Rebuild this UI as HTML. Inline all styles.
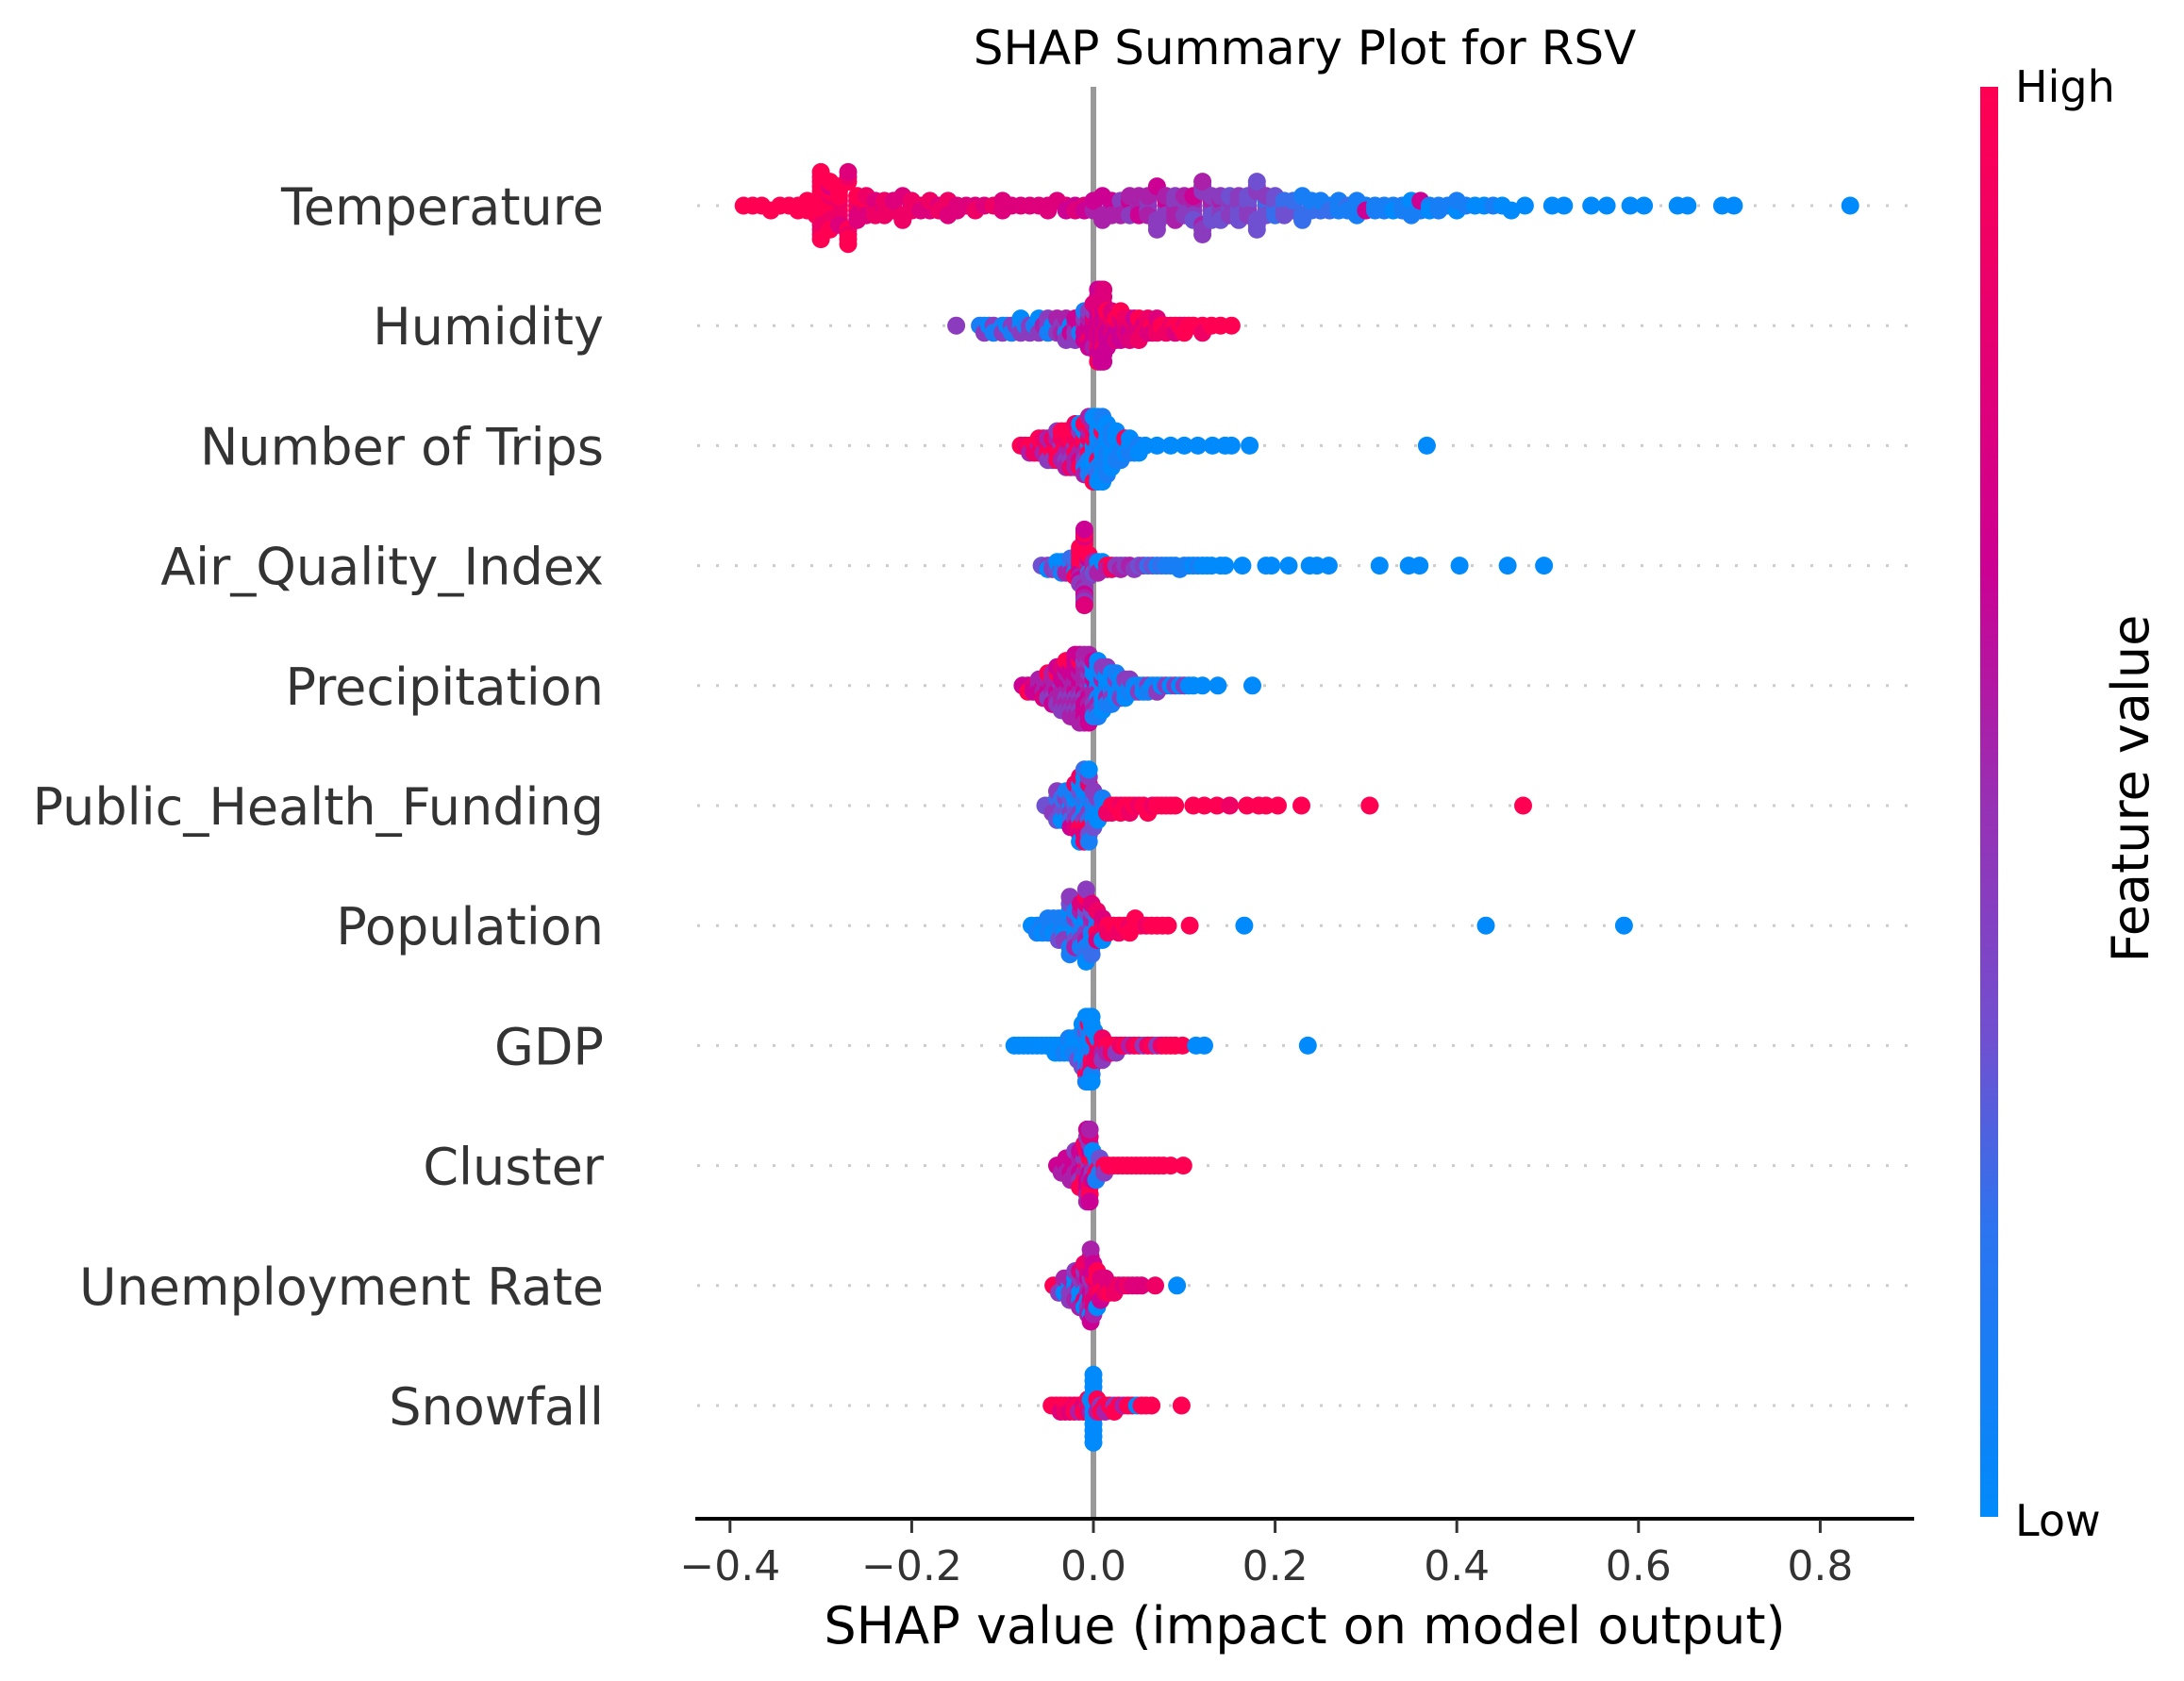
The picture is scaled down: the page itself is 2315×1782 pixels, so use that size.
<!DOCTYPE html>
<html><head><meta charset="utf-8"><style>
html,body{margin:0;padding:0;background:#fff}
svg{display:block;font-family:"DejaVu Sans","Liberation Sans",sans-serif}
</style></head><body>
<svg id="chart" width="2315" height="1782" viewBox="0 0 2315 1782" xmlns="http://www.w3.org/2000/svg">
<defs>
<linearGradient id="cbar" x1="0" y1="1" x2="0" y2="0">
<stop offset="0" stop-color="#008afb"/><stop offset="0.2" stop-color="#2c74f0"/><stop offset="0.335" stop-color="#7050d0"/><stop offset="0.5" stop-color="#9830b4"/><stop offset="0.665" stop-color="#cc0092"/><stop offset="0.85" stop-color="#ea006c"/><stop offset="1" stop-color="#ff0052"/>
</linearGradient>
</defs>
<text x="1383" y="68" font-size="50" text-anchor="middle" fill="#000">SHAP Summary Plot for RSV</text>
<g id="grid"></g>
<line x1="1159" y1="92" x2="1159" y2="1608" stroke="#999" stroke-width="6"/>
<g id="points"></g>
<g id="labels"></g>
<line x1="737" y1="1610" x2="2029" y2="1610" stroke="#000" stroke-width="4"/>
<g id="xticks"></g>
<text x="1383" y="1742" font-size="54" text-anchor="middle" fill="#000">SHAP value (impact on model output)</text>
<rect x="2099" y="92" width="19" height="1516" fill="url(#cbar)"/>
<text x="2136" y="108" font-size="46" fill="#000">High</text>
<text x="2136" y="1628" font-size="46" fill="#000">Low</text>
<text transform="translate(2277,836) rotate(-90)" font-size="54" text-anchor="middle" fill="#000">Feature value</text>
</svg>
<script>
const features = ["Temperature","Humidity","Number of Trips","Air_Quality_Index","Precipitation","Public_Health_Funding","Population","GDP","Cluster","Unemployment Rate","Snowfall"];
const xTicks = [-0.4,-0.2,0.0,0.2,0.4,0.6,0.8];
const xTickLabels = ["\u22120.4","\u22120.2","0.0","0.2","0.4","0.6","0.8"];
// each token "shap:digits" = one point per digit at that SHAP value; digit = feature value (0 low .. 9 high)
const rawTemperature = "-0.385:9 -0.375:9 -0.365:9 -0.355:9 -0.345:9 -0.335:9 -0.325:99 -0.315:999 -0.305:9999 -0.30:99989898999 -0.29:99998898799 -0.28:998898979 -0.27:9988979 -0.26:898797 -0.25:88978 -0.24:8878 -0.23:8788 -0.22:887 -0.21:878 -0.20:788 -0.19:87 -0.18:778 -0.17:78 -0.16:87 -0.15:77 -0.14:7 -0.13:78 -0.12:7 -0.11:8 -0.10:77 -0.09:7 -0.08:7 -0.07:7 -0.06:7 -0.05:77 -0.04:7 -0.03:76 -0.02:67 -0.01:76 0.00:656 0.01:565 0.02:5565 0.03:6545 0.04:55645 0.05:45565 0.06:54455 0.07:45464 0.08:54645 0.09:454545 0.10:45445 0.11:445463 0.12:454454 0.13:445343 0.14:345443 0.15:43443 0.16:434343 0.17:34343 0.18:343433 0.19:33234 0.20:32323 0.21:2323 0.22:232 0.23:212 0.24:221 0.25:121 0.26:12 0.27:111 0.28:21 0.29:11 0.30:16 0.31:11 0.32:11 0.33:10 0.34:11 0.35:01 0.36:116 0.37:10 0.38:11 0.39:1 0.40:01 0.41:1 0.42:0 0.43:0 0.44:1 0.45:0 0.46:0 0.475:0 0.505:0 0.518:0 0.548:0 0.565:0 0.591:0 0.606:0 0.643:0 0.654:0 0.692:0 0.705:0 0.833:0";
const rawHumidity = "-0.151:4 -0.125:1 -0.12:14 -0.115:0 -0.11:41 -0.10:14 -0.095:0 -0.09:41 -0.085:4 -0.08:140 -0.075:1 -0.07:44 -0.065:1 -0.06:140 -0.055:5 -0.05:414 -0.045:0 -0.04:145 -0.035:45 -0.03:4154 -0.025:06 -0.02:5464 -0.015:616 -0.01:56461 -0.005:665846 0.00:6676457 0.005:67676876796 0.008:76768676766 0.011:67676876767 0.015:767696 0.02:67867 0.025:7697 0.03:86769 0.035:778 0.04:7687 0.045:876 0.05:7798 0.055:78 0.06:878 0.065:97 0.07:887 0.075:9 0.08:98 0.085:8 0.09:97 0.095:9 0.10:89 0.105:9 0.11:9 0.12:98 0.13:9 0.14:9 0.152:9";
const rawTrips = "-0.08:9 -0.075:8 -0.07:95 -0.065:98 -0.06:589 -0.055:958 -0.05:8954 -0.045:5984 -0.04:89594 -0.035:49859 -0.03:958495 -0.025:859498 -0.02:4985958 -0.015:9587490 -0.01:85940195 -0.005:098150915 0.00:0190805109 0.005:0109010200 0.01:1010910010 0.015:01010101 0.02:001010 0.025:10010 0.03:0101 0.035:109 0.04:010 0.045:01 0.05:10 0.057:0 0.07:0 0.085:0 0.10:0 0.115:0 0.131:0 0.145:0 0.152:0 0.172:0 0.367:0";
const rawAQI = "-0.057:3 -0.05:40 -0.045:34 -0.04:430 -0.035:3401 -0.03:4305 -0.025:34052 -0.02:543029 -0.015:67969596949 -0.01:59496759467 -0.005:0952649 0.00:4953 0.005:9305 0.01:950 0.015:95 0.02:98 0.025:4 0.03:45 0.035:4 0.04:5 0.045:4 0.05:3 0.055:4 0.06:2 0.065:3 0.07:1 0.075:2 0.08:1 0.085:1 0.09:1 0.095:1 0.10:1 0.105:1 0.11:0 0.115:1 0.12:0 0.125:0 0.13:0 0.14:0 0.145:0 0.164:0 0.19:0 0.196:0 0.215:0 0.238:0 0.246:0 0.259:0 0.315:0 0.347:0 0.359:0 0.403:0 0.456:0 0.496:0";
const rawPrecip = "-0.078:6 -0.072:69 -0.066:76 -0.06:565 -0.055:6557 -0.05:56549 -0.045:655456 -0.04:5655946 -0.035:45656574 -0.03:656455649 -0.025:6554656495 -0.02:56546564656 -0.015:656455649565 -0.01:565456564655 -0.005:455645564656 0.00:0565040561 0.005:0501050401 0.01:10501040 0.015:0105014 0.02:010401 0.025:10401 0.03:0104 0.035:1040 0.04:014 0.045:10 0.05:04 0.055:10 0.06:41 0.065:0 0.07:14 0.075:0 0.08:4 0.085:0 0.09:4 0.095:0 0.10:4 0.105:0 0.11:0 0.12:0 0.137:0 0.175:0";
const rawFunding = "-0.053:3 -0.045:34 -0.04:234 -0.035:4320 -0.03:23401 -0.025:043216 -0.02:2304178 -0.015:0412390780 -0.01:10240917082 -0.005:04120983410 0.00:012043 0.005:1040 0.01:201 0.015:08 0.02:98 0.025:9 0.03:89 0.035:9 0.04:98 0.045:9 0.05:8 0.055:9 0.06:9 0.065:8 0.07:9 0.075:9 0.08:9 0.085:9 0.09:9 0.11:9 0.122:9 0.136:9 0.15:8 0.169:9 0.182:9 0.19:9 0.203:9 0.229:9 0.304:9 0.473:9";
const rawPopulation = "-0.068:0 -0.062:01 -0.056:10 -0.05:011 -0.044:101 -0.038:0113 -0.032:1014 -0.026:01314 -0.02:104315 -0.014:3104517 -0.008:14053172904 -0.002:41503172 0.004:09178 0.01:9870 0.016:98 0.022:9 0.028:98 0.034:9 0.04:89 0.046:9 0.052:9 0.058:8 0.064:9 0.07:9 0.076:9 0.082:9 0.106:9 0.166:0 0.432:0 0.584:0";
const rawGDP = "-0.087:0 -0.082:0 -0.077:0 -0.072:0 -0.067:0 -0.062:0 -0.057:0 -0.052:0 -0.047:0 -0.042:00 -0.037:00 -0.032:01 -0.027:001 -0.022:010 -0.017:0103 -0.012:0100130 -0.008:0010310901 -0.005:0100139800 -0.002:0109180100 0.001:01980 0.005:980 0.01:9584 0.015:95 0.02:98 0.025:94 0.03:8 0.035:9 0.04:5 0.045:8 0.05:9 0.055:4 0.06:8 0.065:9 0.07:4 0.075:8 0.08:9 0.085:9 0.09:9 0.098:9 0.113:0 0.122:0 0.236:0";
const rawCluster = "-0.04:6 -0.035:65 -0.03:656 -0.025:5665 -0.02:65654 -0.015:565469 -0.01:6549698 -0.007:95469685456 -0.004:46956849765 -0.001:54960 0.003:4901 0.007:913 0.012:94 0.017:9 0.022:9 0.027:9 0.032:9 0.037:9 0.042:9 0.047:9 0.052:9 0.057:9 0.062:9 0.067:9 0.072:9 0.077:9 0.085:9 0.099:9";
const rawUnemployment = "-0.044:9 -0.038:94 -0.032:405 -0.026:0454 -0.02:04054 -0.015:504075 -0.01:4057408 -0.006:45607485 -0.003:56476580765 0.0:45876765 0.004:789790 0.008:8976 0.013:987 0.018:79 0.023:78 0.028:8 0.033:7 0.038:8 0.043:7 0.048:7 0.053:7 0.068:8 0.092:0";
const rawSnowfall = "-0.046:9 -0.041:9 -0.036:97 -0.031:98 -0.026:97 -0.021:89 -0.016:95 -0.011:79 -0.006:589 -0.003:950 0.0:000000000000 0.001:00 0.004:059 0.008:49 0.013:95 0.018:9 0.023:49 0.028:9 0.033:5 0.038:9 0.043:9 0.048:0 0.053:9 0.058:9 0.064:9 0.097:9";
const rawRows = [rawTemperature,rawHumidity,rawTrips,rawAQI,rawPrecip,rawFunding,rawPopulation,rawGDP,rawCluster,rawUnemployment,rawSnowfall];

const NS = "http://www.w3.org/2000/svg";
const X0 = 1159, PXU = 963, ROW0 = 218, ROWH = 127.2, R = 9.5;
function xScale(v){ return X0 + v*PXU; }
function yRow(i){ return ROW0 + i*ROWH; }
function parseRow(s){
  const sh=[], fv=[];
  s.trim().split(/\s+/).forEach(t=>{ const p=t.split(":"); for(const d of p[1]){ sh.push(parseFloat(p[0])); fv.push(parseInt(d)/9); } });
  return {sh, fv};
}
const stops=[[0,[0,138,251]],[0.2,[44,116,240]],[0.335,[112,80,208]],[0.5,[152,48,180]],[0.665,[204,0,146]],[0.85,[234,0,108]],[1,[255,0,82]]];
function cmap(t){
  for(let i=1;i<stops.length;i++){ if(t<=stops[i][0]){ const a=stops[i-1],b=stops[i],f=(t-a[0])/(b[0]-a[0]); return "rgb("+a[1].map((c,k)=>Math.round(c+(b[1][k]-c)*f)).join(",")+")"; } }
  return "rgb(255,0,82)";
}
function mk(tag, attrs, parent){ const e=document.createElementNS(NS,tag); for(const k in attrs) e.setAttribute(k,attrs[k]); parent.appendChild(e); return e; }

const grid=document.getElementById("grid"), pts=document.getElementById("points"), labs=document.getElementById("labels"), xt=document.getElementById("xticks");
features.forEach((name,i)=>{
  const y=yRow(i);
  const gl=mk("line",{x1:739,y1:y,x2:2029,y2:y,stroke:"#cccccc","stroke-width":3,"stroke-dasharray":"3 17"},grid);
  
  
  const t=mk("text",{x:640,y:y+20,"font-size":54,"text-anchor":"end",fill:"#333333"},labs);
  t.textContent=name;
  
  
  const d=parseRow(rawRows[i]);
  const n=d.sh.length, mn=Math.min(...d.sh), mx=Math.max(...d.sh);
  const quant=d.sh.map(v=>Math.round(100*(v-mn)/(mx-mn+1e-8)));
  const inds=[...Array(n).keys()].sort((a,b)=>quant[a]-quant[b]||a-b);
  const ys=new Array(n).fill(0); let layer=0,last=-1;
  inds.forEach(k=>{ if(quant[k]!==last) layer=0; ys[k]=Math.ceil(layer/2)*((layer%2)*2-1); layer++; last=quant[k]; });
  const m=Math.max(...ys.map(v=>v+1));
  const g=mk("g",{},pts);
  
  
  for(let k=0;k<n;k++){
    const c=mk("circle",{cx:xScale(d.sh[k]).toFixed(1),cy:(y+ys[k]*0.36/m*ROWH).toFixed(1),r:R,fill:cmap(d.fv[k])},g);
    
    
  }
});
xTicks.forEach((v,i)=>{
  const x=xScale(v);
  const tk=mk("line",{x1:x,y1:1611,x2:x,y2:1625,stroke:"#333","stroke-width":3},xt);
  
  
  const tl=mk("text",{x:x,y:1675,"font-size":44,"text-anchor":"middle",fill:"#333333"},xt);
  tl.textContent=xTickLabels[i];
  
  
});
</script>
</body></html>
